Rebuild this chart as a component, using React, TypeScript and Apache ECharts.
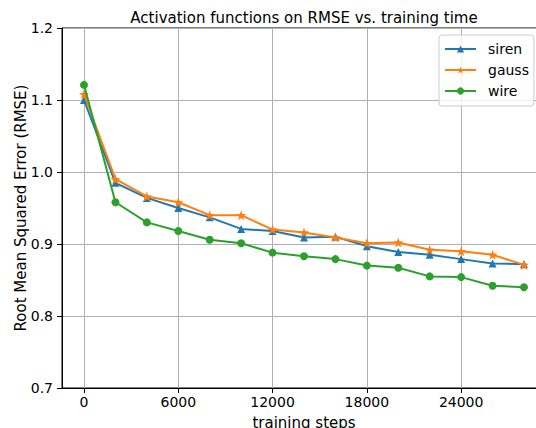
import React, { useEffect, useRef } from "react";
import * as echarts from "echarts";

const steps = [0, 2000, 4000, 6000, 8000, 10000, 12000, 14000, 16000, 18000, 20000, 22000, 24000, 26000, 28000];
const siren = [1.100, 0.985, 0.964, 0.950, 0.937, 0.921, 0.918, 0.909, 0.910, 0.897, 0.889, 0.885, 0.879, 0.873, 0.872];
const gauss = [1.108, 0.990, 0.966, 0.958, 0.940, 0.940, 0.920, 0.916, 0.909, 0.901, 0.902, 0.892, 0.890, 0.885, 0.871];
const wire = [1.121, 0.958, 0.930, 0.918, 0.906, 0.901, 0.888, 0.883, 0.879, 0.870, 0.867, 0.855, 0.854, 0.842, 0.840];
const xTicks = [0, 6000, 12000, 18000, 24000];
const seriesNames = ["siren", "gauss", "wire"];
const colors = ["#1f77b4", "#ff7f0e", "#2ca02c"];

const FONT = "DejaVu Sans";
const STAR =
  "path://M0,-10L2.35,-3.24L9.51,-3.09L3.8,1.24L5.88,8.09L0,4L-5.88,8.09L-3.8,1.24L-9.51,-3.09L-2.35,-3.24Z";

export default function App() {
  const ref = useRef<HTMLDivElement>(null);
  useEffect(() => {
    if (!ref.current) return;
    const chart = echarts.init(ref.current, undefined, { renderer: "svg" });
    const values = [siren, gauss, wire];
    const symbols = ["triangle", STAR, "circle"];
    const sizes = [8, 10, 8];
    chart.setOption({
      animation: false,
      backgroundColor: "#fff",
      textStyle: { fontFamily: FONT },
      title: {
        text: "Activation functions on RMSE vs. training time",
        left: 304,
        top: 10,
        padding: 0,
        textAlign: "center",
        textStyle: { fontFamily: FONT, fontSize: 15, fontWeight: "normal", color: "#000" },
      },
      legend: {
        orient: "vertical",
        left: 439,
        top: 35,
        padding: [7, 5, 8, 5],
        itemWidth: 31,
        itemHeight: 9,
        itemGap: 7,
        backgroundColor: "rgba(255,255,255,0.8)",
        borderColor: "#cccccc",
        borderWidth: 1,
        borderRadius: 3,
        textStyle: { fontFamily: FONT, fontSize: 14, color: "#000", lineHeight: 14, padding: [0, 0, 0, 7] },
        data: seriesNames,
      },
      grid: {
        left: 62,
        right: 14,
        top: 28,
        bottom: 40,
        show: true,
        borderColor: "#000",
        borderWidth: 1,
        backgroundColor: "transparent",
        containLabel: false,
        outerBoundsMode: "none",
      },
      xAxis: {
        type: "value",
        min: -1400,
        max: 29400,
        name: "training steps",
        nameLocation: "middle",
        nameGap: 27,
        nameMoveOverlap: false,
        nameTextStyle: { fontFamily: FONT, fontSize: 15, color: "#000" },
        axisLine: { show: true, onZero: false, lineStyle: { color: "#000", width: 1 } },
        axisTick: { show: true, length: 5, customValues: xTicks, lineStyle: { color: "#000", width: 1 } },
        axisLabel: {
          customValues: xTicks,
          fontFamily: FONT,
          fontSize: 14,
          color: "#000",
          margin: 7,
          formatter: (v: number) => String(v),
        },
        splitLine: { show: true, lineStyle: { color: "#b0b0b0", width: 1 } },
      },
      yAxis: {
        type: "value",
        min: 0.7,
        max: 1.2,
        interval: 0.1,
        name: "Root Mean Squared Error (RMSE)",
        nameLocation: "middle",
        nameGap: 34,
        nameMoveOverlap: false,
        nameTextStyle: { fontFamily: FONT, fontSize: 15, color: "#000" },
        axisLine: { show: true, onZero: false, lineStyle: { color: "#000", width: 1 } },
        axisTick: { show: true, length: 5, lineStyle: { color: "#000", width: 1 } },
        axisLabel: {
          fontFamily: FONT,
          fontSize: 14,
          color: "#000",
          margin: 9,
          formatter: (v: number) => v.toFixed(1),
        },
        splitLine: { show: true, lineStyle: { color: "#b0b0b0", width: 1 } },
      },
      series: seriesNames.map((name, k) => ({
        name,
        type: "line",
        data: steps.map((s, i) => [s, values[k][i]]),
        symbol: symbols[k],
        symbolSize: sizes[k],
        showSymbol: true,
        color: colors[k],
        itemStyle: { color: colors[k] },
        lineStyle: { color: colors[k], width: 2 },
        z: 2 + k,
      })),
    });
    return () => chart.dispose();
  }, []);
  return (
    <div style={{ position: "absolute", left: 0, top: 0, width: 536, height: 428, overflow: "hidden", background: "#fff" }}>
      <div ref={ref} style={{ width: 560, height: 428 }} />
    </div>
  );
}
